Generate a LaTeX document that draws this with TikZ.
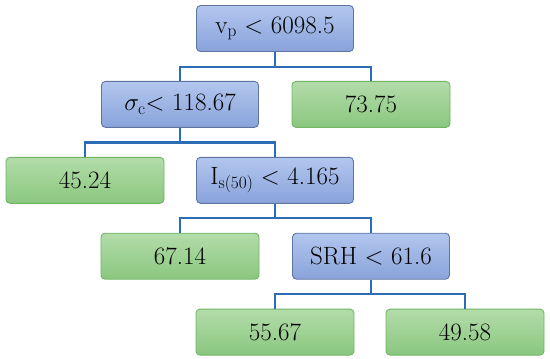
\documentclass[tikz,border=0pt]{standalone}
\usepackage{xcolor}
\definecolor{SplitTop}{HTML}{B2C6EE}
\definecolor{SplitBot}{HTML}{89A3DA}
\definecolor{SplitEdge}{HTML}{5F74A3}
\definecolor{LeafTop}{HTML}{B3DCAA}
\definecolor{LeafBot}{HTML}{8AC77F}
\definecolor{LeafEdge}{HTML}{6FB562}
\definecolor{LinkBlue}{HTML}{2D6DB5}
\usepackage{tikz}
\usetikzlibrary{positioning,calc}

\begin{document}
\begin{tikzpicture}[node distance=29pt and 0pt, every node/.style={font=\fontsize{25}{30}\selectfont}, split/.style={draw=SplitEdge,line width=0.9pt,rounded corners=4pt,top color=SplitTop,bottom color=SplitBot,minimum width=157pt,minimum height=46pt,align=center}, leaf/.style={draw=LeafEdge,line width=0.9pt,rounded corners=4pt,top color=LeafTop,bottom color=LeafBot,minimum width=158pt,minimum height=46pt,align=center}, link/.style={draw=LinkBlue,line width=2.4pt}]
\useasboundingbox (0,0) rectangle (550pt,-359pt);
\node[split] (root) at (275pt,-28.5pt) {v$_\mathrm{p}$ $<$ 6098.5};
\node[split,below=of root,xshift=-95pt] (sigc) {$\sigma_\mathrm{c}$$<$ 118.67};
\node[leaf,below=of root,xshift=96pt] (t7375) {73.75};
\node[leaf,below=of sigc,xshift=-95pt] (t4524) {45.24};
\node[split,below=of sigc,xshift=95pt] (isf) {I$_\mathrm{s(50)}$ $<$ 4.165};
\node[leaf,below=of isf,xshift=-95pt] (t6714) {67.14};
\node[split,below=of isf,xshift=96pt] (srh) {SRH $<$ 61.6};
\node[leaf,below=of srh,xshift=-96pt] (t5567) {55.67};
\node[leaf,below=of srh,xshift=94pt] (t4958) {49.58};
% branches
\draw[link] (root.south) -- ++(0,-15pt) coordinate (j1);
\draw[link] (sigc.north) |- (j1) -| (t7375.north);
\draw[link] (sigc.south) -- ++(0,-14.5pt) coordinate (j2);
\draw[link] (t4524.north) |- (j2) -| (isf.north);
\draw[link] (isf.south) -- ++(0,-14.5pt) coordinate (j3);
\draw[link] (t6714.north) |- (j3) -| (srh.north);
\draw[link] (srh.south) -- ++(0,-14.5pt) coordinate (j4);
\draw[link] (t5567.north) |- (j4) -| (t4958.north);
\end{tikzpicture}
\end{document}
